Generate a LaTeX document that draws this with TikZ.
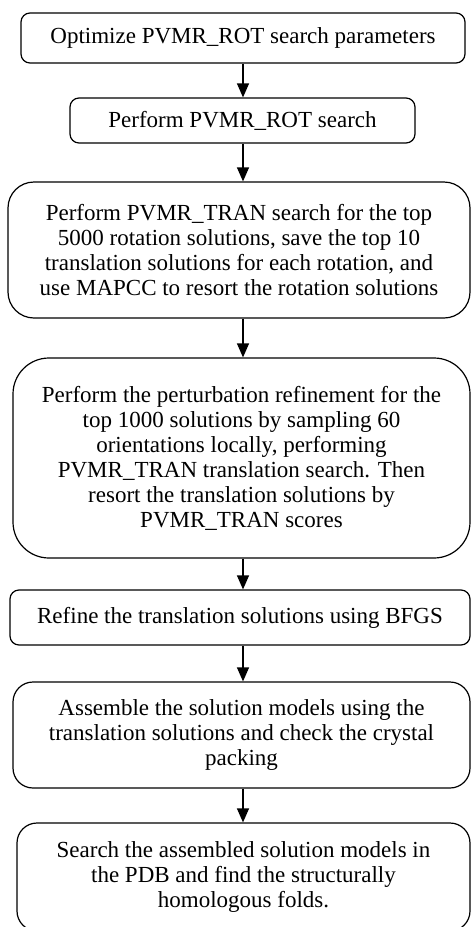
\documentclass[tikz,border=0pt]{standalone}
\usepackage{fontspec}
\setmainfont{Liberation Serif}
\usetikzlibrary{arrows.meta}

\tikzset{
	stepbox/.style={draw, line width=1.2pt, align=center, inner sep=0pt,
		font=\fontsize{23}{25}\selectfont},
	flow/.style={line width=1.2pt, -{Triangle[length=14pt,width=12pt]}}
}

\begin{document}
\begin{tikzpicture}[x=1pt,y=1pt]
			\useasboundingbox (0,0) rectangle (471,-927);
			\coordinate (axis) at (243,0);
			%
			\node[stepbox, rounded corners=9pt, minimum width=444pt, minimum height=50pt] (opt) at (243,-38)
				{Optimize PVMR\_ROT search parameters};
			\node[stepbox, rounded corners=9pt, minimum width=345pt, minimum height=45pt] (rot) at (242.5,-120.5)
				{Perform PVMR\_ROT search};
			\node[stepbox, rounded corners=26pt, minimum width=462pt, minimum height=136pt] (tran) at (239,-250)
				{Perform PVMR\_TRAN search for the top\\5000 rotation solutions, save the top 10\\translation solutions for each rotation, and\\use MAPCC to resort the rotation solutions};
			\node[stepbox, rounded corners=36pt, minimum width=457pt, minimum height=200pt] (pert) at (241.5,-458)
				{Perform the perturbation refinement for the\\top 1000 solutions by sampling 60\\orientations locally, performing\\PVMR\_TRAN translation search. Then\\resort the translation solutions by\\PVMR\_TRAN scores};
			\node[stepbox, rounded corners=9pt, minimum width=460pt, minimum height=55pt] (bfgs) at (240,-617.5)
				{Refine the translation solutions using BFGS};
			\node[stepbox, rounded corners=20pt, minimum width=457pt, minimum height=106pt] (asm) at (241.5,-735)
				{Assemble the solution models using the\\translation solutions and check the crystal\\packing};
			\node[stepbox, rounded corners=20pt, minimum width=453pt, minimum height=108pt] (pdb) at (243.5,-877)
				{Search the assembled solution models in\\the PDB and find the structurally\\homologous folds.};
			%
			\draw[flow] (opt.south -| axis) -- (rot.north -| axis);
			\draw[flow] (rot.south -| axis) -- (tran.north -| axis);
			\draw[flow] (tran.south -| axis) -- (pert.north -| axis);
			\draw[flow] (pert.south -| axis) -- (bfgs.north -| axis);
			\draw[flow] (bfgs.south -| axis) -- (asm.north -| axis);
			\draw[flow] (asm.south -| axis) -- (pdb.north -| axis);
		\end{tikzpicture}
\end{document}
